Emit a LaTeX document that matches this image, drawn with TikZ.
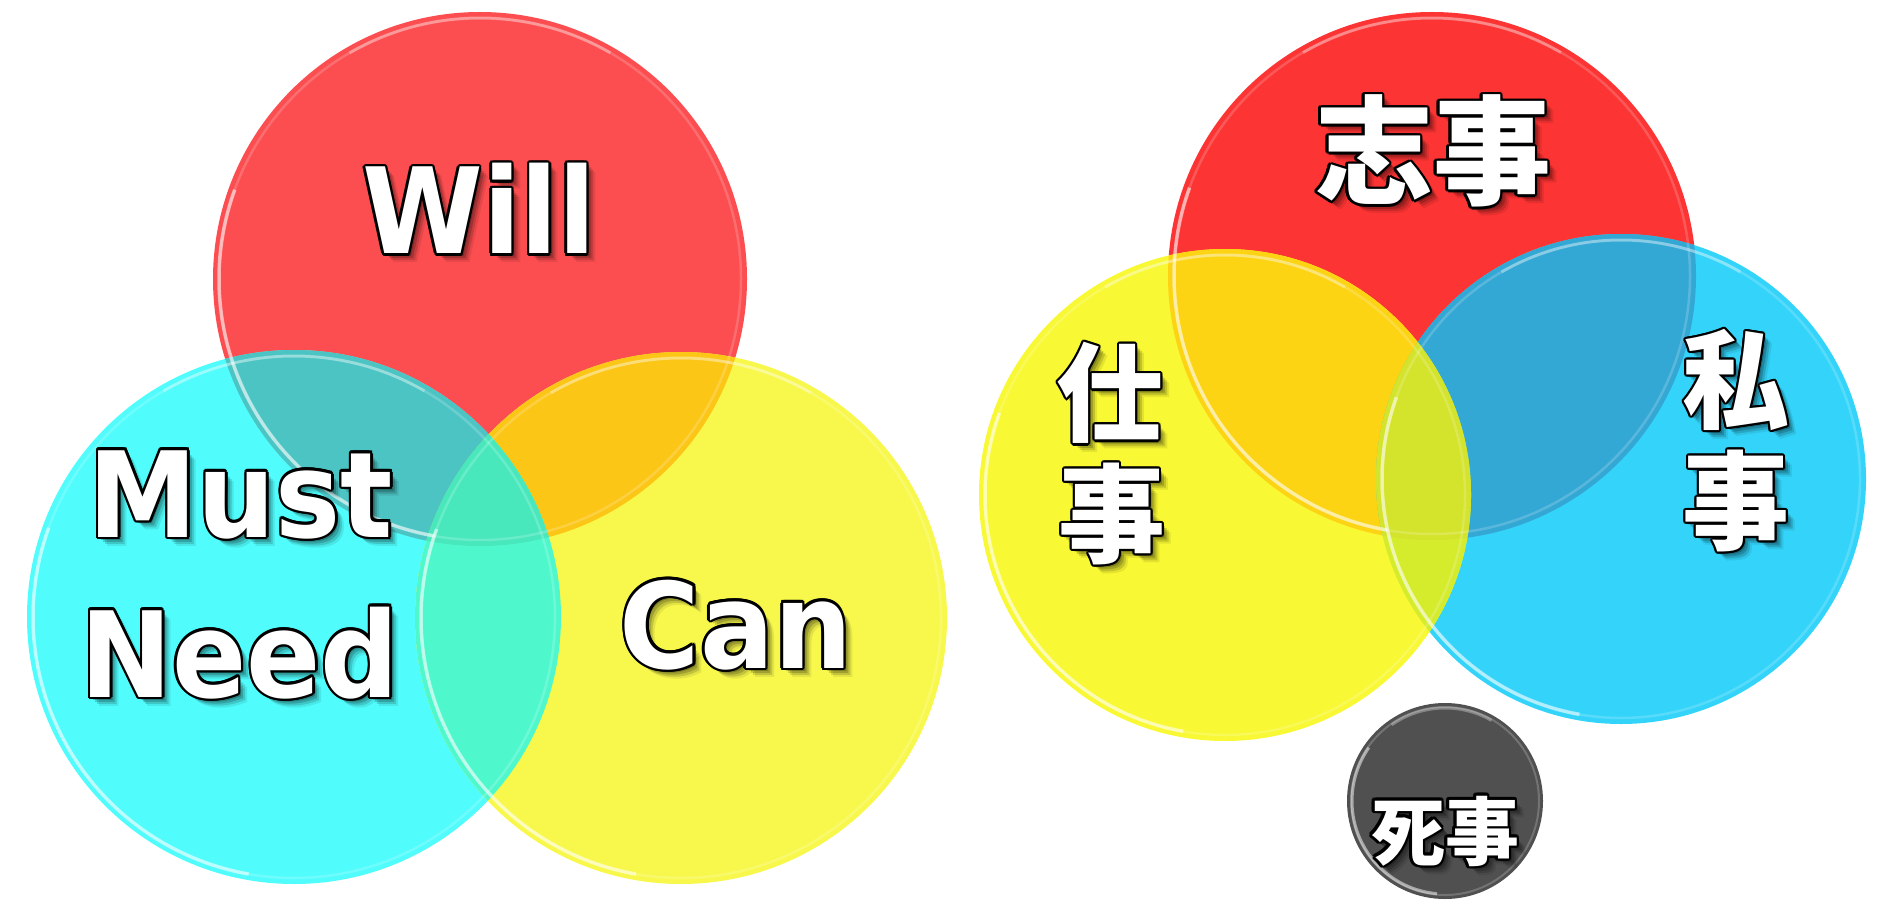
\documentclass[tikz,border=0pt]{standalone}
\usepackage{fontspec}
\usepackage{graphicx}
\usetikzlibrary{calc}
\newfontfamily\latf{DejaVu Sans}
\newfontfamily\cjkf{Noto Sans CJK JP}
% left diagram colours
\definecolor{LRed}{HTML}{FC4E50}
\definecolor{LCyan}{HTML}{50FCFC}
\definecolor{LYel}{HTML}{F8F84C}
\definecolor{LRC}{HTML}{4CC4C4}
\definecolor{LRY}{HTML}{FCC616}
\definecolor{LCY}{HTML}{4EF8CC}
\definecolor{LRCY}{HTML}{48E8BC}
% right diagram colours
\definecolor{RRed}{HTML}{FC3434}
\definecolor{RYel}{HTML}{F8F834}
\definecolor{RCyan}{HTML}{34D4FA}
\definecolor{RRY}{HTML}{FCD414}
\definecolor{RRC}{HTML}{34A8D4}
\definecolor{RYC}{HTML}{D4EC2C}
\definecolor{RRYC}{HTML}{D4E42C}
\definecolor{Dark}{HTML}{505050}

\newcommand\olab[5]{% #1 name, #2 position, #3 anchor, #4 font, #5 text
  \foreach \d/\o in {3/0.22,5/0.18,7/0.14,9/0.08}{\node[anchor=#3, inner sep=0, font=#4, text=black, opacity=\o] at ($(#2)+(\d,\d)$) {#5};}
  \foreach \a in {0,30,...,330}{\node[anchor=#3, inner sep=0, font=#4, text=black] at ($(#2)+(\a:2.4)$) {#5};}
  \node[anchor=#3, inner sep=0, font=#4, text=white] (#1) at (#2) {#5};
}
\newcommand\rim[2]{% center, radius
  \pgfmathsetmacro\rr{#2-6}
  \draw[white, opacity=0.18, line width=2.5] (#1) circle[radius=\rr];
  \draw[white, opacity=0.55, line width=3.5] (#1) ++(100:\rr) arc[start angle=100, end angle=200, radius=\rr];
  \draw[white, opacity=0.3, line width=3] (#1) ++(240:\rr) arc[start angle=240, end angle=300, radius=\rr];
}
\begin{document}
\begin{tikzpicture}[x=1pt,y=-1pt]
\useasboundingbox (0,0) rectangle (1879,901);
% ---------- left diagram ----------
\coordinate (W) at (480,279);
\coordinate (M) at (294,617);
\coordinate (C) at (681,618);
\def\rW{267}\def\rM{267}\def\rC{266}
\node[circle, fill=LRed, minimum size=534pt, inner sep=0] (will) at (W) {};
\node[circle, fill=LCyan, minimum size=534pt, inner sep=0] (must) at (M) {};
\node[circle, fill=LYel, minimum size=532pt, inner sep=0] (can) at (C) {};
\begin{scope}\clip (W) circle[radius=\rW]; \fill[LRC] (M) circle[radius=\rM];\end{scope}
\begin{scope}\clip (W) circle[radius=\rW]; \fill[LRY] (C) circle[radius=\rC];\end{scope}
\begin{scope}\clip (M) circle[radius=\rM]; \fill[LCY] (C) circle[radius=\rC];\end{scope}
\begin{scope}\clip (W) circle[radius=\rW]; \clip (M) circle[radius=\rM]; \fill[LRCY] (C) circle[radius=\rC];\end{scope}
\rim{W}{\rW}\rim{M}{\rM}\rim{C}{\rC}
% ---------- right diagram ----------
\coordinate (S) at (1432,276);
\coordinate (G) at (1225,495);
\coordinate (P) at (1621,479);
\coordinate (D) at (1445,801);
\def\rS{264}\def\rG{246}\def\rP{245}\def\rD{98}
\node[circle, fill=RRed, minimum size=528pt, inner sep=0] (shi) at (S) {};
\node[circle, fill=RCyan, minimum size=490pt, inner sep=0] (watashi) at (P) {};
\node[circle, fill=RYel, minimum size=492pt, inner sep=0] (shigoto) at (G) {};
\begin{scope}\clip (S) circle[radius=\rS]; \fill[RRY] (G) circle[radius=\rG];\end{scope}
\begin{scope}\clip (S) circle[radius=\rS]; \fill[RRC] (P) circle[radius=\rP];\end{scope}
\begin{scope}\clip (G) circle[radius=\rG]; \fill[RYC] (P) circle[radius=\rP];\end{scope}
\begin{scope}\clip (S) circle[radius=\rS]; \clip (G) circle[radius=\rG]; \fill[RRYC] (P) circle[radius=\rP];\end{scope}
\rim{S}{\rS}\rim{P}{\rP}\rim{G}{\rG}
\node[circle, fill=Dark, minimum size=196pt, inner sep=0] (shiji) at (D) {};
\draw[white, opacity=0.2, line width=2] (D) circle[radius=94];
\draw[white, opacity=0.5, line width=3] (D) ++(95:93) arc[start angle=95, end angle=215, radius=93];
\draw[white, opacity=0.3, line width=3] (D) ++(235:93) arc[start angle=235, end angle=300, radius=93];
% ---------- labels ----------
\olab{tWill}{479,254}{base}{{\latf\bfseries\fontsize{119}{119}\selectfont}}{\scalebox{0.92}[1]{Will}}
\olab{tMust}{241,537}{base}{{\latf\bfseries\fontsize{119}{119}\selectfont}}{\scalebox{0.92}[1]{Must}}
\olab{tNeed}{240,697}{base}{{\latf\bfseries\fontsize{119}{119}\selectfont}}{\scalebox{0.92}[1]{Need}}
\olab{tCan}{736,668}{base}{{\latf\bfseries\fontsize{119}{119}\selectfont}}{\scalebox{0.92}[1]{Can}}
\olab{tShi}{1433,151}{center}{{\cjkf\bfseries\fontsize{118}{118}\selectfont}}{志事}
\olab{tGa}{1110,393}{center}{{\cjkf\bfseries\fontsize{107}{107}\selectfont}}{仕}
\olab{tGb}{1112,514}{center}{{\cjkf\bfseries\fontsize{107}{107}\selectfont}}{事}
\olab{tPa}{1736,380}{center}{{\cjkf\bfseries\fontsize{107}{107}\selectfont}}{私}
\olab{tPb}{1736,501}{center}{{\cjkf\bfseries\fontsize{107}{107}\selectfont}}{事}
\olab{tD}{1445,831}{center}{{\cjkf\bfseries\fontsize{74}{74}\selectfont}}{死事}
\end{tikzpicture}
\end{document}
